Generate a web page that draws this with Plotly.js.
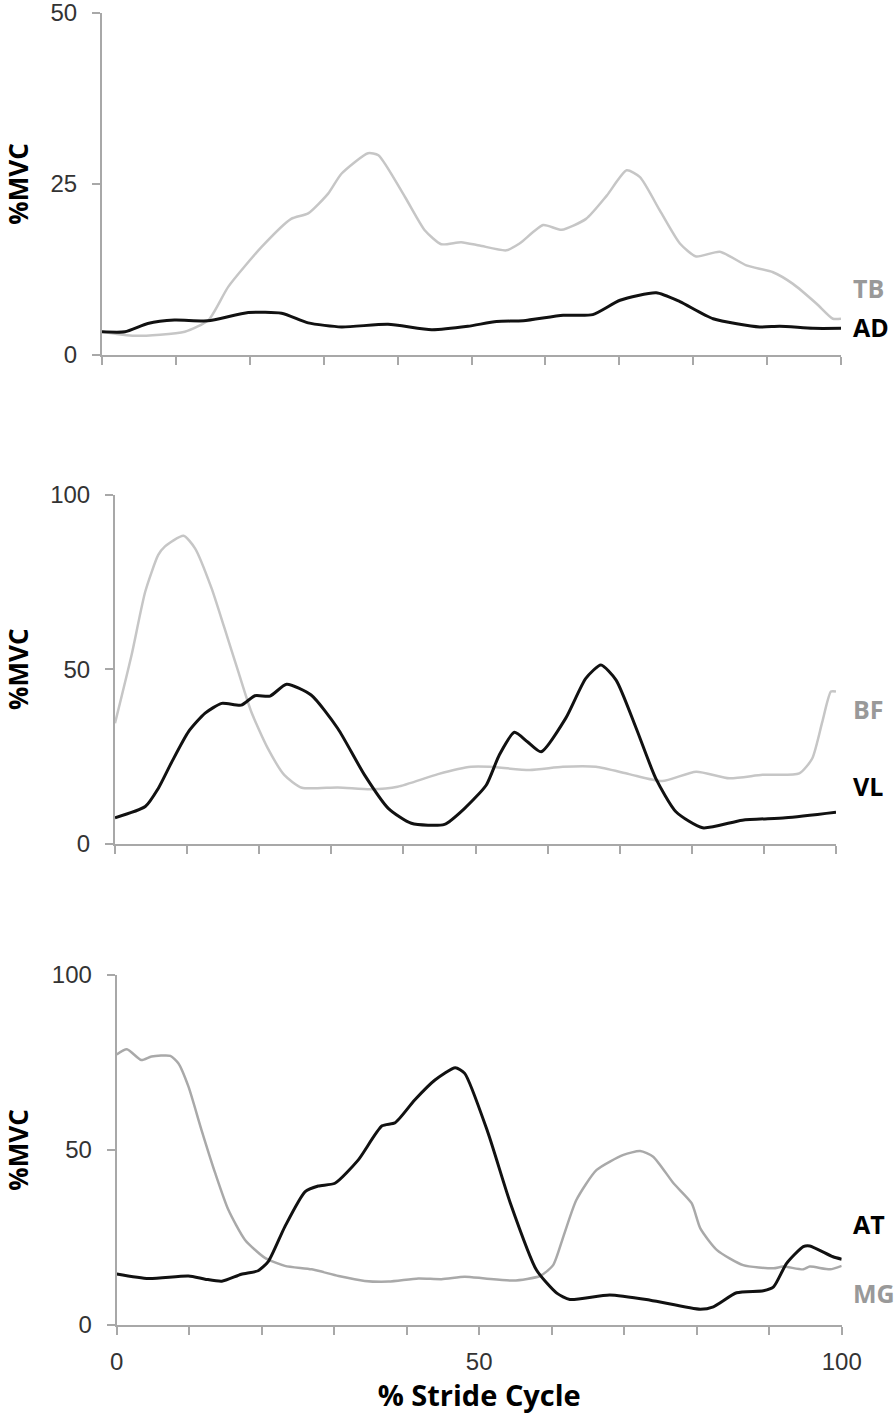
<!DOCTYPE html>
<html>
<head>
<meta charset="utf-8">
<script src="https://cdn.plot.ly/plotly-3.0.1.min.js"></script>
<style>html,body{margin:0;padding:0;background:#fff;}#chart{width:896px;height:1418px;}</style>
</head>
<body>
<div id="chart"></div>
<script>
// ---- Data ----
var tbX = [0, 4.4, 11.2, 14.4, 17.1, 21.6, 25.6, 27.9, 30.6, 32.4, 36, 37.4, 41, 43.7, 45.9, 48.6, 51.1, 54.7, 56.5, 59.7, 62.2, 65.5, 68.3, 71, 72.8, 75.5, 78.2, 80.4, 83.6, 87.2, 90.8, 93.5, 96.7, 98.9, 100];
var tbY = [3.4, 2.8, 3.4, 5.1, 10, 15.8, 19.9, 20.7, 23.6, 26.5, 29.5, 29.2, 23.1, 18.2, 16.2, 16.5, 16.0, 15.3, 16.3, 19, 18.3, 19.9, 23.3, 27, 26, 21.1, 16.3, 14.4, 15.1, 13.1, 12.1, 10.4, 7.5, 5.3, 5.3];
var adX = [0, 3.1, 6.2, 9.8, 14.3, 19.8, 24.3, 27.9, 32.4, 38.7, 44.6, 49.5, 53.4, 57, 62.4, 66.4, 70.1, 75, 78.2, 82.7, 89, 91.7, 96.2, 100];
var adY = [3.4, 3.4, 4.6, 5.1, 5.0, 6.2, 6.1, 4.7, 4.1, 4.5, 3.7, 4.2, 4.9, 5.0, 5.8, 5.9, 8, 9.1, 7.8, 5.3, 4.1, 4.2, 3.9, 3.9];

var bfX = [0, 2.3, 4.2, 6.0, 6.9, 9.5, 11.1, 13.4, 15.2, 17.1, 18.9, 21.2, 23.5, 25.9, 30.9, 35.5, 39.2, 44.8, 49.4, 51.9, 57.5, 62.1, 66.7, 71.3, 75.9, 80.6, 85.2, 89.8, 94.9, 96.7, 98.1, 99.3, 100];
var bfY = [34.5, 54.1, 72.3, 82.8, 85.2, 88.3, 84.7, 73.2, 61.7, 49.3, 37.8, 27.3, 19.6, 16, 16.1, 15.6, 16.3, 19.9, 22, 22, 21.1, 22, 22, 19.9, 17.9, 20.6, 18.7, 19.7, 20.1, 24.4, 34.9, 43.6, 43.6];
var vlX = [0, 4.2, 6.0, 7.9, 10.2, 12.5, 14.8, 17.5, 19.4, 21.5, 23.8, 27.2, 30.9, 34.6, 37.9, 41.1, 45.7, 48.5, 51.5, 53.3, 55.4, 57.2, 59.1, 62.5, 65.3, 67.4, 69.5, 72.3, 75, 77.8, 81.5, 87, 93, 100];
var vlY = [7.4, 10.6, 15.8, 23.5, 32.1, 37.4, 40.2, 39.7, 42.4, 42.3, 45.7, 42.6, 33, 19.7, 10.1, 5.8, 5.5, 10.1, 16.8, 25.4, 31.9, 29.2, 26.3, 35.9, 47.4, 51.2, 46.9, 33, 18.7, 9.1, 4.5, 6.7, 7.4, 9];

var mgX = [0, 1.4, 3.4, 4.8, 7.4, 8.5, 9.9, 11.7, 13.6, 15.4, 17.7, 20.5, 23.2, 26.9, 30.6, 34.2, 37.5, 41.6, 44.8, 48, 50.8, 54.7, 58.4, 60.2, 61.6, 63.4, 66.2, 69.9, 72.2, 74, 76.8, 79.3, 80.5, 82.8, 86.4, 90.6, 91.9, 94.7, 95.6, 98.4, 100];
var mgY = [77.3, 78.8, 75.7, 76.7, 76.9, 74.8, 68.1, 55.7, 43.3, 32.9, 24.3, 19.1, 16.9, 15.9, 14, 12.6, 12.4, 13.3, 13.1, 13.8, 13.3, 12.7, 14, 17.1, 25.2, 35.7, 44.3, 48.6, 49.7, 48.1, 40.5, 34.8, 27.6, 21.4, 17.1, 16.2, 16.7, 15.9, 16.7, 15.9, 16.9];
var atX = [0, 4.4, 9.9, 12.2, 14.5, 17.2, 19.5, 20.9, 23.2, 26, 27.8, 30.1, 33.3, 36.6, 38.4, 41.1, 43.9, 46.7, 48, 51.2, 54.3, 57.9, 60.7, 62.5, 68, 73.6, 80.5, 82.3, 85.5, 89.2, 90.6, 92.4, 94.7, 95.6, 98.8, 100];
var atY = [14.6, 13.3, 14, 13.1, 12.5, 14.5, 15.5, 18.1, 28.1, 38.1, 39.7, 40.5, 47.1, 56.9, 57.8, 64.3, 70, 73.5, 71.9, 55, 34.8, 15.7, 9.1, 7.3, 8.6, 7.1, 4.5, 5.2, 9.2, 9.8, 10.9, 17.6, 22.4, 22.6, 19.5, 18.8];

var xTickVals = [0, 10, 20, 30, 40, 50, 60, 70, 80, 90, 100];
var xTickText = ['0', '', '', '', '', '50', '', '', '', '', '100'];
var seriesNames = ['TB', 'AD', 'BF', 'VL', 'MG', 'AT'];

// ---- Styles ----
var GRAY_LIGHT = '#c6c6c6', GRAY_MID = '#a9a9a9', BLACK = '#111111';
var AXIS = '#a8a8a8';
var W = 896, H = 1418;
var TICKFONT = {family: 'Liberation Sans, Arial, sans-serif', size: 24, color: '#333333'};
var TITLEFONT = {family: 'Open Sans, sans-serif', size: 26, color: '#000', weight: 'bold'};

function tr(x, y, xa, ya, color, width, name) {
  return {x: x, y: y, xaxis: xa, yaxis: ya, type: 'scatter', mode: 'lines', name: name,
    line: {color: color, width: width, shape: 'spline', smoothing: 0.6}, hoverinfo: 'skip'};
}

var data = [
  tr(tbX, tbY, 'x', 'y', GRAY_LIGHT, 2.5, seriesNames[0]),
  tr(adX, adY, 'x', 'y', BLACK, 3, seriesNames[1]),
  tr(bfX, bfY, 'x2', 'y2', GRAY_LIGHT, 2.5, seriesNames[2]),
  tr(vlX, vlY, 'x2', 'y2', BLACK, 3, seriesNames[3]),
  tr(mgX, mgY, 'x3', 'y3', GRAY_MID, 2.5, seriesNames[4]),
  tr(atX, atY, 'x3', 'y3', BLACK, 3, seriesNames[5])
];

function xax(dom, anchor, labels) {
  return {domain: dom, anchor: anchor, range: [0, 100], showgrid: false, zeroline: false,
    showline: true, linecolor: AXIS, linewidth: 2, ticks: 'outside', ticklen: 8, tickwidth: 2, tickcolor: AXIS,
    tickmode: 'array', tickvals: xTickVals, ticktext: xTickText, showticklabels: labels,
    ticklabelstandoff: 6, ticklabeloverflow: 'allow', tickfont: TICKFONT, fixedrange: true};
}
function yax(dom, anchor, maxv, dt) {
  return {domain: dom, anchor: anchor, range: [0, maxv], dtick: dt, tick0: 0, showgrid: false, zeroline: false,
    showline: true, linecolor: AXIS, linewidth: 2, ticks: 'outside', ticklen: 8, tickwidth: 2, tickcolor: AXIS,
    ticklabelstandoff: 10, ticklabeloverflow: 'allow', tickfont: TICKFONT,
    title: {text: '%MVC', standoff: 20, font: TITLEFONT},
    fixedrange: true};
}

var layout = {
  width: W, height: H, margin: {l: 0, r: 0, t: 0, b: 0},
  paper_bgcolor: '#fff', plot_bgcolor: '#fff', showlegend: false,
  xaxis: xax([102 / W, 841 / W], 'y', false),
  yaxis: yax([(H - 355) / H, (H - 13) / H], 'x', 50, 25),
  xaxis2: xax([115 / W, 836 / W], 'y2', false),
  yaxis2: yax([(H - 843.5) / H, (H - 495) / H], 'x2', 100, 50),
  xaxis3: xax([116.7 / W, 841.7 / W], 'y3', true),
  yaxis3: yax([(H - 1325) / H, (H - 975) / H], 'x3', 100, 50),
  annotations: []
};
layout.xaxis3.title = {text: '% Stride Cycle', standoff: 12, font: {family: 'Open Sans, sans-serif', size: 29, color: '#000', weight: 'bold'}};

var labelPos = [
  {t: seriesNames[0], y: 288, c: '#999999'},
  {t: seriesNames[1], y: 327, c: '#000000'},
  {t: seriesNames[2], y: 709, c: '#999999'},
  {t: seriesNames[3], y: 786, c: '#000000'},
  {t: seriesNames[4], y: 1293, c: '#999999'},
  {t: seriesNames[5], y: 1224, c: '#000000'}
];
labelPos.forEach(function (p) {
  layout.annotations.push({text: '<b>' + p.t + '</b>', xref: 'paper', yref: 'paper', x: 851 / W, y: (H - p.y) / H,
    xanchor: 'left', yanchor: 'middle', showarrow: false,
    font: {family: 'Open Sans, sans-serif', size: 25, color: p.c}});
});

Plotly.newPlot('chart', data, layout, {staticPlot: true, displayModeBar: false});
</script>
</body>
</html>
